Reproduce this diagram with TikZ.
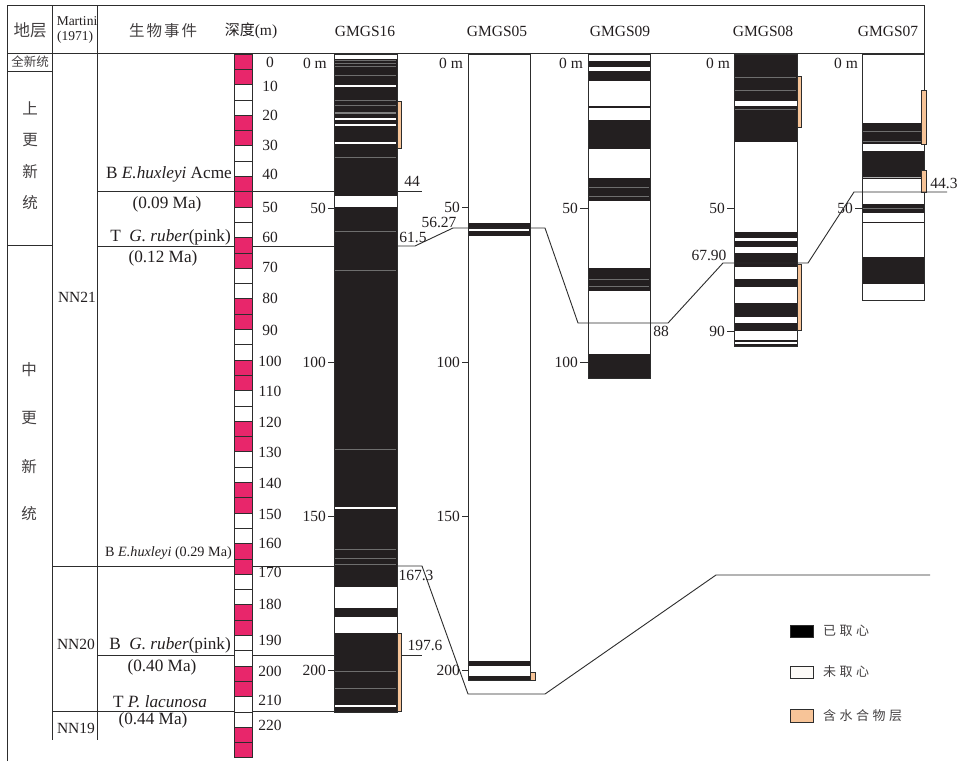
\documentclass[tikz,border=0pt]{standalone}
\usepackage{fontspec}
\setmainfont{Liberation Serif}
\newfontfamily\cjk{Noto Sans CJK SC}
\definecolor{pinkbox}{RGB}{232,38,107}
\definecolor{coreblk}{RGB}{35,31,32}
\definecolor{hydc}{RGB}{247,196,152}
\definecolor{linec}{RGB}{45,45,45}
\definecolor{txtc}{RGB}{35,31,32}
\definecolor{grayl}{RGB}{110,110,110}
\begin{document}
\begin{tikzpicture}[x=1pt,y=-1pt,
  lin/.style={draw=linec, line width=0.9pt},
  tx/.style={inner sep=0pt, text=txtc, font=\fontsize{15.5}{17}\selectfont},
  evt/.style={inner sep=0pt, text=txtc, font=\fontsize{17.2}{19}\selectfont},
  smalltx/.style={inner sep=0pt, text=txtc, font=\fontsize{13.5}{15}\selectfont},
  cjkbig/.style={inner sep=0pt, text=txtc!85, font=\cjk\fontsize{15.5}{17}\selectfont},
  cjksmall/.style={inner sep=0pt, text=txtc!85, font=\cjk\fontsize{12.5}{14}\selectfont},
  gline/.style={draw=grayl, line width=0.6pt},
  wline/.style={draw=white, line width=1.4pt},
  hyd/.style={fill=hydc, draw=linec, line width=0.6pt},
  tick/.style={draw=linec, line width=0.8pt},
  legbox/.style={draw=linec, line width=0.8pt}]
\useasboundingbox (0,0) rectangle (960,761);
\fill[white] (0,0) rectangle (960,761);

% ---------- frame ----------
\draw[lin] (7,761) -- (7,5) -- (924,5) -- (924,54);
\draw[lin] (7,53) -- (924,53);
\draw[lin] (52,5) -- (52,740);
\draw[lin] (97,5) -- (97,740);
\draw[lin] (7,71) -- (52,71);
\draw[lin] (7,245) -- (52,245);

% ---------- event lines (left part) ----------
\draw[lin] (97,191) -- (334,191);
\draw[lin] (97,246) -- (334,246);
\draw[lin] (52,566) -- (334,566);
\draw[lin] (97,655) -- (334,655);
\draw[lin] (52,711) -- (334,711);

% ---------- headers ----------
\node[cjkbig, font=\cjk\fontsize{16.5}{18}\selectfont] (hdiceng) at (30,30) {地层};
\node[smalltx] (hmart) at (77,21) {Martini};
\node[smalltx] (hyear) at (75,37) {(1971)};
\node[cjkbig] (hevent) at (163,31) {生\kern2pt 物\kern2pt 事\kern2pt 件};
\node[inner sep=0pt, text=txtc] (hdepth) at (251,31) {{\cjk\fontsize{15}{17}\selectfont 深度}{\fontsize{15.5}{17}\selectfont(m)}};
\node[tx] (h16) at (365,31) {GMGS16};
\node[tx] (h05) at (497,31) {GMGS05};
\node[tx] (h09) at (620,31) {GMGS09};
\node[tx] (h08) at (763,31) {GMGS08};
\node[tx] (h07) at (888,31) {GMGS07};

% ---------- stratigraphy column ----------
\node[cjksmall] (qxt) at (30,62) {全新统};
\node[cjkbig] (s1) at (30,108) {上};
\node[cjkbig] (s2) at (30,140) {更};
\node[cjkbig] (s3) at (30,172) {新};
\node[cjkbig] (s4) at (30,203) {统};
\node[cjkbig] (m1) at (29,370) {中};
\node[cjkbig] (m2) at (29,418) {更};
\node[cjkbig] (m3) at (29,467) {新};
\node[cjkbig] (m4) at (29,514) {统};

% ---------- Martini zones ----------
\node[tx] (nn21) at (77,297) {NN21};
\node[tx] (nn20) at (76,644) {NN20};
\node[tx] (nn19) at (76,728) {NN19};

% ---------- bio events ----------
\node[evt, anchor=east] (ev1) at (232,174) {B \textit{E.huxleyi} Acme};
\node[evt] (ev1a) at (167,204) {(0.09 Ma)};
\node[evt, anchor=east] (ev2) at (231,237) {T\ \ \textit{G. ruber}(pink)};
\node[evt] (ev2a) at (163,258) {(0.12 Ma)};
\node[smalltx, font=\fontsize{14.2}{16}\selectfont, anchor=east] (ev3) at (232,553) {B \textit{E.huxleyi} (0.29 Ma)};
\node[evt, anchor=east] (ev4) at (231,645) {B\ \ \textit{G. ruber}(pink)};
\node[evt] (ev4a) at (162,667) {(0.40 Ma)};
\node[evt] (ev5) at (160,702) {T \textit{P. lacunosa}};
\node[evt] (ev5a) at (153,720) {(0.44 Ma)};

% ---------- depth column ----------
\foreach \k in {0,...,45} {
  \pgfmathsetmacro\ya{54+15.3*\k}
  \pgfmathsetmacro\yb{54+15.3*(\k+1)}
  \pgfmathtruncatemacro\pp{mod(floor(\k/2),2)}
  \ifnum\pp=0 \def\fc{pinkbox}\else\def\fc{white}\fi
  \filldraw[fill=\fc, draw=linec, line width=0.8pt] (234,\ya) rectangle (252,\yb);
}
\foreach \d/\y in {0/62,10/86,20/115,30/145,40/174,50/207,60/237,70/267,80/298,90/330,100/361,110/391,120/422,130/452,140/483,150/514,160/543,170/572,180/604,190/640,200/671,210/700,220/725}
  \node[tx] (dl\d) at (270,\y) {\d};

% ---------- GMGS16 ----------
\fill[white] (334,54) rectangle (397,712);
\foreach \a/\b in {59/587,608/617,633/712} \fill[coreblk] (334,\a) rectangle (397,\b);
\fill[white] (334,195.7) rectangle (397,206.7);
\foreach \y in {86,119,125,143,508,706} \draw[wline] (335,\y) -- (396,\y);
\foreach \y in {60.7,63,66.7,75,100,105.7,157,231,270.7,449,549,558,564,671,688} \draw[gline] (335,\y) -- (396,\y);
\draw[gline, draw=gray, line width=1.8pt] (335,113) -- (396,113);
\draw[lin] (334,54) rectangle (397,712);
\filldraw[hyd] (397,101) rectangle (401,148);
\filldraw[hyd] (397,633) rectangle (401,711);
\node[tx, anchor=east] (g16d0) at (327,63) {0 m};
\foreach \d/\y in {50/208,100/362,150/516,200/670} {
  \node[tx, anchor=east] (g16d\d) at (326,\y) {\d};
  \draw[tick] (g16d\d.east) ++(2,0) -- (334,\y);
}

% ---------- GMGS05 ----------
\fill[white] (468,54) rectangle (530,680.7);
\foreach \a/\b in {222.7/236,660.7/666,676/680.7} \fill[coreblk] (468,\a) rectangle (530,\b);
\draw[wline, line width=1.2pt] (469,230) -- (529,230);
\draw[lin] (468,54) rectangle (530,680.7);
\filldraw[hyd] (530,672) rectangle (535,680);
\node[tx, anchor=east] (g05d0) at (463,63) {0 m};
\foreach \d/\y in {50/207,100/362,150/516,200/670} {
  \node[tx, anchor=east] (g05d\d) at (460,\y) {\d};
  \draw[tick] (g05d\d.east) ++(2,0) -- (468,\y);
}

% ---------- GMGS09 ----------
\fill[white] (588,54) rectangle (650,378);
\foreach \a/\b in {60.7/66.7,70.7/80.7,105.7/107.7,120/149.3,178/200.7,268/291,354/378} \fill[coreblk] (588,\a) rectangle (650,\b);
\foreach \y in {187,196,279,286} \draw[gline] (589,\y) -- (649,\y);
\draw[lin] (588,54) rectangle (650,378);
\node[tx, anchor=east] (g09d0) at (583,63) {0 m};
\foreach \d/\y in {50/208,100/362} {
  \node[tx, anchor=east] (g09d\d) at (578,\y) {\d};
  \draw[tick] (g09d\d.east) ++(2,0) -- (588,\y);
}

% ---------- GMGS08 ----------
\fill[white] (734,54) rectangle (797,346);
\foreach \a/\b in {54/141.7,231.7/237.7,240.7/247.3,253.3/266.7,279.3/287.3,303.3/316.7,322.7/330.7,340/342,344/346} \fill[coreblk] (734,\a) rectangle (797,\b);
\fill[white] (734,101) rectangle (797,105.7);
\foreach \y in {77.7,90,109} \draw[gline] (735,\y) -- (796,\y);
\draw[lin] (734,54) rectangle (797,346);
\filldraw[hyd] (797,76.7) rectangle (801,127.7);
\filldraw[hyd] (797,264) rectangle (801,330);
\node[tx, anchor=east] (g08d0) at (730,63) {0 m};
\foreach \d/\y in {50/208,90/331} {
  \node[tx, anchor=east] (g08d\d) at (725,\y) {\d};
  \draw[tick] (g08d\d.east) ++(2,0) -- (734,\y);
}

% ---------- GMGS07 ----------
\fill[white] (862,54) rectangle (924,300);
\foreach \a/\b in {123.3/144,150.7/179.3,204/212.7,221.7/223.3,256.7/284} \fill[coreblk] (862,\a) rectangle (924,\b);
\foreach \y in {131.7,141.7,208} \draw[gline] (863,\y) -- (923,\y);
\draw[gline, draw=gray!60, line width=1.2pt] (863,177.3) -- (923,177.3);
\draw[lin] (862,54) rectangle (924,300);
\filldraw[hyd] (921.7,90) rectangle (926.7,144.3);
\filldraw[hyd] (921.7,170.7) rectangle (926.7,192.7);
\node[tx, anchor=east] (g07d0) at (858,63) {0 m};
\node[tx, anchor=east] (g07d50) at (853,208) {50};
\draw[tick] (g07d50.east) ++(2,0) -- (862,208);

% ---------- correlation lines ----------
\coordinate (a1) at (397,191); \coordinate (a2) at (422,191);
\draw[lin] (a1) -- (a2);
\coordinate (b0) at (397,246);
\coordinate (b1) at (415,246);
\coordinate (b2) at (453,228);
\coordinate (b3) at (545,228);
\coordinate (b4) at (578,323);
\coordinate (b5) at (668,323);
\coordinate (b6) at (723,263);
\coordinate (b7) at (808,263);
\coordinate (b8) at (854,192);
\coordinate (b9) at (947,192);
\draw[lin] (b0) -- (b1) -- (b2) -- (b3) -- (b4) -- (b5) -- (b6) -- (b7) -- (b8) -- (b9);
\coordinate (c0) at (397,566);
\coordinate (c1) at (422,566);
\coordinate (c2) at (468,694);
\coordinate (c3) at (545,694);
\coordinate (c4) at (716,575);
\coordinate (c5) at (930,575);
\draw[lin] (c0) -- (c1) -- (c2) -- (c3) -- (c4) -- (c5);
\coordinate (d1) at (401,655); \coordinate (d2) at (422,655);
\draw[lin] (d1) -- (d2);

% ---------- correlation labels ----------
\node[tx] (l44) at (412,181) {44};
\node[tx] (l615) at (413,237) {61.5};
\node[tx] (l5627) at (439,222) {56.27};
\node[tx] (l88) at (661,331) {88};
\node[tx] (l6790) at (709,255) {67.90};
\node[tx] (l443) at (944,183) {44.3};
\node[tx] (l1673) at (416,575) {167.3};
\node[tx] (l1976) at (425,645) {197.6};

% ---------- legend ----------
\filldraw[legbox, fill=black] (790,625) rectangle (813,637);
\filldraw[legbox, fill=white!96!brown] (790,666) rectangle (813,678);
\filldraw[legbox, fill=hydc] (790,709) rectangle (813,722);
\node[cjksmall, font=\cjk\fontsize{13}{15}\selectfont, anchor=west] (lg1) at (823,631) {已\kern3.5pt 取\kern3.5pt 心};
\node[cjksmall, font=\cjk\fontsize{13}{15}\selectfont, anchor=west] (lg2) at (823,672) {未\kern3.5pt 取\kern3.5pt 心};
\node[cjksmall, font=\cjk\fontsize{13}{15}\selectfont, anchor=west] (lg3) at (823,716) {含\kern3.5pt 水\kern3.5pt 合\kern3.5pt 物\kern3.5pt 层};
\end{tikzpicture}
\end{document}
